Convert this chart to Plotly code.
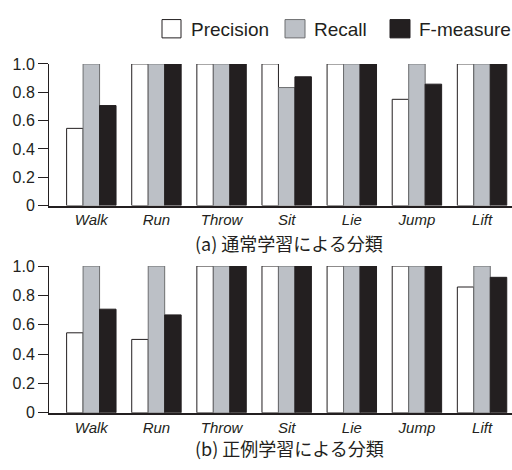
import plotly.graph_objects as go
from plotly.subplots import make_subplots

categories = ["Walk", "Run", "Throw", "Sit", "Lie", "Jump", "Lift"]
series_names = ["Precision", "Recall", "F-measure"]

# (a) 通常学習による分類
normal_precision = [0.545, 1.0, 1.0, 1.0, 1.0, 0.75, 1.0]
normal_recall = [1.0, 1.0, 1.0, 0.833, 1.0, 1.0, 1.0]
normal_fmeasure = [0.706, 1.0, 1.0, 0.909, 1.0, 0.857, 1.0]

# (b) 正例学習による分類
positive_precision = [0.545, 0.5, 1.0, 1.0, 1.0, 1.0, 0.857]
positive_recall = [1.0, 1.0, 1.0, 1.0, 1.0, 1.0, 1.0]
positive_fmeasure = [0.706, 0.667, 1.0, 1.0, 1.0, 1.0, 0.923]

ytick_vals = [0, 0.2, 0.4, 0.6, 0.8, 1.0]
ytick_text = ["0", "0.2", "0.4", "0.6", "0.8", "1.0"]
titles = ["(a) 通常学習による分類", "(b) 正例学習による分類"]

INK = "#231f20"
fills = ["#ffffff", "#bcc0c6", INK]
lines = [INK, "#6d6e70", INK]

W, H = 512, 470

fig = make_subplots(rows=2, cols=1)

panels = [
    (normal_precision, normal_recall, normal_fmeasure),
    (positive_precision, positive_recall, positive_fmeasure),
]
for r, vals in enumerate(panels, start=1):
    for name, v, fc, lc in zip(series_names, vals, fills, lines):
        fig.add_trace(
            go.Bar(
                x=categories, y=v, name=name, showlegend=False,
                marker=dict(color=fc, line=dict(color=lc, width=1)),
            ),
            row=r, col=1,
        )

fig.update_layout(
    width=W, height=H,
    margin=dict(l=0, r=0, t=0, b=0),
    paper_bgcolor="white", plot_bgcolor="white",
    barmode="group", bargap=0.241, bargroupgap=0,
    font=dict(family="Liberation Sans, Arial, sans-serif", color=INK),
)

xdom = [49 / W, 1.0]
ydoms = [[1 - 205 / H, 1 - 58 / H], [1 - 420 / H, 1 - 267.7 / H]]
for i in (1, 2):
    fig.update_xaxes(
        row=i, col=1, domain=xdom, range=[-0.65, 6.46],
        showline=True, linecolor=INK, linewidth=1.5,
        ticks="", showgrid=False, zeroline=False,
        tickfont=dict(family="Liberation Sans, Arial, sans-serif",
                      size=15, style="italic", color=INK),
    )
    fig.update_yaxes(
        row=i, col=1, domain=ydoms[i - 1], range=[0, 1.0],
        showline=True, linecolor=INK, linewidth=1,
        ticks="outside", ticklen=10, tickcolor=INK, tickwidth=1,
        tickvals=ytick_vals, ticktext=ytick_text,
        showgrid=False, zeroline=False,
        tickfont=dict(size=16, color=INK),
    )

# Subplot captions
for t, yc in zip(titles, [244, 457]):
    fig.add_annotation(
        text=t, xref="paper", yref="paper", x=289 / W, y=1 - yc / H,
        showarrow=False, xanchor="center", yanchor="middle",
        font=dict(family="Noto Sans CJK JP, Liberation Sans, sans-serif", size=18, color=INK),
    )

# Legend (drawn as boxes with labels)
legend_boxes = [(162, 181), (285, 305), (390, 410)]
legend_text_x = [189, 312, 417]
for name, (x0, x1), tx, fc, lc in zip(series_names, legend_boxes, legend_text_x, fills, lines):
    fig.add_shape(
        type="rect", xref="paper", yref="paper",
        x0=x0 / W, x1=x1 / W, y0=1 - 31 / H, y1=1 - 12 / H,
        fillcolor=fc, line=dict(color=lc, width=1),
    )
    fig.add_annotation(
        text=name, xref="paper", yref="paper", x=tx / W, y=1 - 22 / H,
        showarrow=False, xanchor="left", yanchor="middle",
        font=dict(size=19, color=INK),
    )

fig.write_html(
    "out.html",
    config={"displayModeBar": False},
    post_script="document.body.style.margin='0';document.body.style.overflow='hidden';",
)
